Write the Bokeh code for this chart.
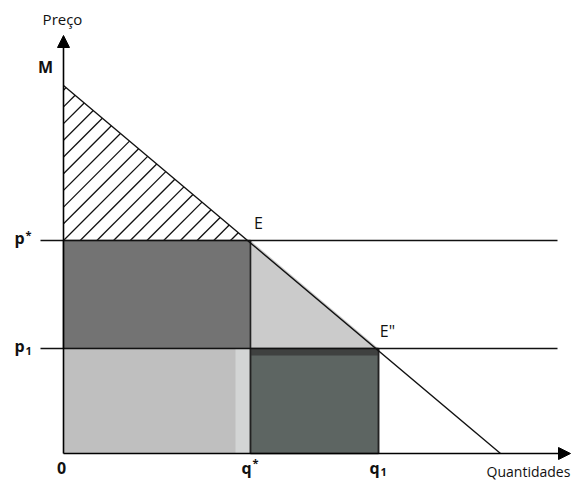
from bokeh.plotting import figure
from bokeh.models import Range1d, Arrow, NormalHead
from bokeh.core.properties import value
from bokeh.embed import file_html
from bokeh.resources import INLINE

# Values (arbitrary units)
M = 368          # price intercept of demand
q_max = 437      # quantity intercept of demand
p_star = 213     # price p*
p_one = 105      # price p1
q_star = 187     # quantity q*
q_one = 315      # quantity q1
axis_q_end = 507
axis_p_end = 418

demand_q = [0, q_max]
demand_p = [M, 0]

FONT = value("Open Sans")

p = figure(width=571, height=480, output_backend="svg", toolbar_location=None,
           x_range=Range1d(-63, 508), y_range=Range1d(-27, 453),
           min_border=0, outline_line_color=None, background_fill_color="white")
p.axis.visible = False
p.grid.visible = False

# hatched triangle (consumer surplus): 45-degree lines clipped to the triangle
slope = M / q_max
step = 16.7
hx0, hy0, hx1, hy1 = [], [], [], []
k = -20
while True:
    c = p_star - k * step          # line: y = x + c
    k += 1
    if c > M:
        continue
    if c >= p_star:
        xs, ys = 0.0, c
    else:
        xs, ys = p_star - c, p_star
    xe = (M - c) / (1 + slope)
    if xe <= xs:
        break
    hx0.append(xs); hy0.append(ys); hx1.append(xe); hy1.append(xe + c)
p.segment(x0=hx0, y0=hy0, x1=hx1, y1=hy1, line_color="#111111", line_width=1.3)

# dark rectangle 0..q*, p1..p*
p.quad(left=[0], right=[q_star], bottom=[p_one], top=[p_star],
       fill_color="#737373", line_color="#555555", line_width=1.5)
# light rectangle 0..q*, 0..p1
p.quad(left=[0], right=[q_star], bottom=[0], top=[p_one],
       fill_color="#bfbfbf", line_color=None)
p.quad(left=[q_star - 15], right=[q_star], bottom=[0], top=[p_one],
       fill_color="#d3d5d5", line_color=None)
# light triangle
p.patch([q_star, q_star, q_one], [p_star, p_one, p_one],
        fill_color="#cbcbcb", line_color=None)
# dark rectangle q*..q1, 0..p1
p.quad(left=[q_star], right=[q_one], bottom=[0], top=[p_one],
       fill_color="#5d6562", line_color="#3a3a3a", line_width=1.5)
p.quad(left=[q_star], right=[q_one], bottom=[p_one - 7], top=[p_one],
       fill_color="#3f4140", line_color=None)

# verticals
p.segment(x0=[q_star, q_one], y0=[p_star, p_one], x1=[q_star, q_one], y1=[0, 0],
          line_color="#222222", line_width=1.6)

# horizontal price lines
p.segment(x0=[-23, -23], y0=[p_star, p_one], x1=[494, 494], y1=[p_star, p_one],
          line_color="#111111", line_width=1.3)

# demand line
p.line(demand_q, demand_p, line_color="#111111", line_width=1.4)

# axes
p.add_layout(Arrow(end=NormalHead(size=12, fill_color="black", line_color="black"),
                   x_start=0, y_start=0, x_end=0, y_end=axis_p_end,
                   line_color="black", line_width=1.6))
p.add_layout(Arrow(end=NormalHead(size=12, fill_color="black", line_color="black"),
                   x_start=0, y_start=0, x_end=axis_q_end, y_end=0,
                   line_color="black", line_width=1.6))

# labels
def lab(x, y, t, size="16px", bold=False, align="center", base="middle"):
    p.text(x=[x], y=[y], text=[t], text_font=FONT, text_font_size=size,
           text_font_style="bold" if bold else "normal", text_align=align,
           text_baseline=base, text_color="#111111")

lab(-1, 435, "Preço", size="15px")
lab(-18, M + 19, "M", bold=True)
lab(-49, p_star + 3, "p", bold=True, align="left")
lab(-38, p_star + 6, "*", size="11px", bold=True, align="left")
lab(-49, p_one + 3, "p", bold=True, align="left")
lab(-38, p_one - 2, "1", size="11px", bold=True, align="left")
lab(q_star + 8, p_star + 18, "E", align="center")
lab(q_one + 9, p_one + 18, "E\"", align="center")
lab(-2, -14, "0", bold=True)
lab(q_star - 4, -14, "q", bold=True)
lab(q_star + 2, -9, "*", size="11px", bold=True, align="left")
lab(q_one - 4, -14, "q", bold=True)
lab(q_one + 2, -18, "1", size="11px", bold=True, align="left")
lab(465, -18, "Quantidades", size="14px")

open("out.html", "w").write(file_html(p, INLINE))
